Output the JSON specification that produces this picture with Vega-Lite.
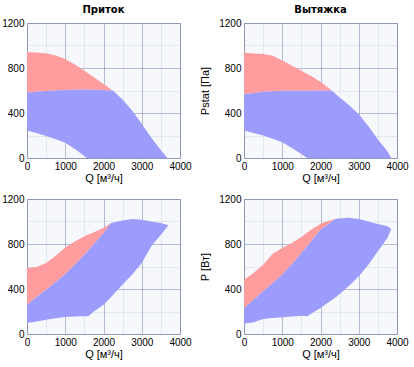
{
  "$schema": "https://vega.github.io/schema/vega-lite/v6.json",
  "padding": {"left": 1, "top": 4, "right": 5, "bottom": 5},
  "background": "white",
  "config": {
    "font": "Liberation Sans",
    "view": {"fill": "#f6f8fc", "stroke": "#aab3cc", "strokeWidth": 1},
    "title": {"font": "DejaVu Sans", "fontSize": 10, "fontWeight": "bold", "color": "#000", "anchor": "middle", "offset": 3},
    "axis": {"labelFont": "Liberation Sans", "labelFontSize": 10, "labelColor": "#000", "titleFont": "Liberation Sans", "titleFontSize": 11, "titleFontWeight": "normal", "titleColor": "#000", "ticks": false, "domain": false, "labelPadding": 3, "labelOverlap": false, "labelFlush": false, "zindex": 1}
  },
  "datasets": {
    "tl": [
      {"s": "r", "q": 0, "t": 940, "b": 582}, {"s": "r", "q": 250, "t": 938, "b": 588}, {"s": "r", "q": 500, "t": 932, "b": 595}, {"s": "r", "q": 750, "t": 912, "b": 600}, {"s": "r", "q": 1000, "t": 880, "b": 605}, {"s": "r", "q": 1250, "t": 832, "b": 607}, {"s": "r", "q": 1500, "t": 776, "b": 608}, {"s": "r", "q": 1750, "t": 718, "b": 607}, {"s": "r", "q": 2000, "t": 657, "b": 605}, {"s": "r", "q": 2250, "t": 598, "b": 598},
      {"s": "b", "q": 0, "t": 582, "b": 245}, {"s": "b", "q": 250, "t": 588, "b": 222}, {"s": "b", "q": 500, "t": 595, "b": 195}, {"s": "b", "q": 750, "t": 600, "b": 167}, {"s": "b", "q": 1000, "t": 605, "b": 135}, {"s": "b", "q": 1250, "t": 607, "b": 80}, {"s": "b", "q": 1500, "t": 608, "b": 18}, {"s": "b", "q": 1560, "t": 608, "b": 0}, {"s": "b", "q": 1750, "t": 607, "b": 0}, {"s": "b", "q": 2000, "t": 605, "b": 0}, {"s": "b", "q": 2250, "t": 598, "b": 0}, {"s": "b", "q": 2500, "t": 520, "b": 0}, {"s": "b", "q": 2750, "t": 420, "b": 0}, {"s": "b", "q": 3000, "t": 305, "b": 0}, {"s": "b", "q": 3250, "t": 180, "b": 0}, {"s": "b", "q": 3500, "t": 70, "b": 0}, {"s": "b", "q": 3670, "t": 0, "b": 0}
    ],
    "tr": [
      {"s": "r", "q": 0, "t": 935, "b": 567}, {"s": "r", "q": 250, "t": 930, "b": 578}, {"s": "r", "q": 500, "t": 925, "b": 588}, {"s": "r", "q": 750, "t": 910, "b": 593}, {"s": "r", "q": 1000, "t": 866, "b": 597}, {"s": "r", "q": 1250, "t": 822, "b": 597}, {"s": "r", "q": 1500, "t": 776, "b": 597}, {"s": "r", "q": 1750, "t": 728, "b": 598}, {"s": "r", "q": 2000, "t": 678, "b": 600}, {"s": "r", "q": 2300, "t": 597, "b": 597},
      {"s": "b", "q": 0, "t": 567, "b": 245}, {"s": "b", "q": 250, "t": 578, "b": 223}, {"s": "b", "q": 500, "t": 588, "b": 200}, {"s": "b", "q": 750, "t": 593, "b": 172}, {"s": "b", "q": 1000, "t": 597, "b": 140}, {"s": "b", "q": 1250, "t": 597, "b": 88}, {"s": "b", "q": 1500, "t": 597, "b": 35}, {"s": "b", "q": 1650, "t": 597, "b": 0}, {"s": "b", "q": 2000, "t": 600, "b": 0}, {"s": "b", "q": 2300, "t": 597, "b": 0}, {"s": "b", "q": 2500, "t": 537, "b": 0}, {"s": "b", "q": 2750, "t": 469, "b": 0}, {"s": "b", "q": 3000, "t": 388, "b": 0}, {"s": "b", "q": 3250, "t": 284, "b": 0}, {"s": "b", "q": 3500, "t": 164, "b": 0}, {"s": "b", "q": 3750, "t": 60, "b": 0}, {"s": "b", "q": 3850, "t": 0, "b": 0}
    ],
    "bl": [
      {"s": "r", "q": 0, "t": 587, "b": 261}, {"s": "r", "q": 250, "t": 596, "b": 328}, {"s": "r", "q": 500, "t": 631, "b": 394}, {"s": "r", "q": 750, "t": 696, "b": 463}, {"s": "r", "q": 1000, "t": 768, "b": 533}, {"s": "r", "q": 1250, "t": 822, "b": 618}, {"s": "r", "q": 1500, "t": 868, "b": 705}, {"s": "r", "q": 1750, "t": 905, "b": 800}, {"s": "r", "q": 2000, "t": 942, "b": 898}, {"s": "r", "q": 2200, "t": 987, "b": 987},
      {"s": "b", "q": 0, "t": 261, "b": 98}, {"s": "b", "q": 250, "t": 328, "b": 112}, {"s": "b", "q": 500, "t": 394, "b": 127}, {"s": "b", "q": 750, "t": 463, "b": 140}, {"s": "b", "q": 1000, "t": 533, "b": 151}, {"s": "b", "q": 1250, "t": 618, "b": 155}, {"s": "b", "q": 1500, "t": 705, "b": 157}, {"s": "b", "q": 1600, "t": 742, "b": 158}, {"s": "b", "q": 1750, "t": 800, "b": 200}, {"s": "b", "q": 2000, "t": 898, "b": 261}, {"s": "b", "q": 2200, "t": 987, "b": 330}, {"s": "b", "q": 2500, "t": 1010, "b": 439}, {"s": "b", "q": 2750, "t": 1022, "b": 530}, {"s": "b", "q": 3000, "t": 1016, "b": 631}, {"s": "b", "q": 3250, "t": 1001, "b": 779}, {"s": "b", "q": 3500, "t": 987, "b": 883}, {"s": "b", "q": 3700, "t": 966, "b": 966}
    ],
    "br": [
      {"s": "r", "q": 0, "t": 483, "b": 231}, {"s": "r", "q": 250, "t": 542, "b": 305}, {"s": "r", "q": 500, "t": 616, "b": 379}, {"s": "r", "q": 750, "t": 714, "b": 453}, {"s": "r", "q": 1000, "t": 764, "b": 527}, {"s": "r", "q": 1250, "t": 809, "b": 620}, {"s": "r", "q": 1500, "t": 862, "b": 720}, {"s": "r", "q": 1750, "t": 927, "b": 822}, {"s": "r", "q": 2000, "t": 980, "b": 927}, {"s": "r", "q": 2200, "t": 1005, "b": 976}, {"s": "r", "q": 2400, "t": 1025, "b": 1025},
      {"s": "b", "q": 0, "t": 231, "b": 92}, {"s": "b", "q": 250, "t": 305, "b": 104}, {"s": "b", "q": 500, "t": 379, "b": 133}, {"s": "b", "q": 750, "t": 453, "b": 142}, {"s": "b", "q": 1000, "t": 527, "b": 148}, {"s": "b", "q": 1250, "t": 620, "b": 155}, {"s": "b", "q": 1500, "t": 720, "b": 163}, {"s": "b", "q": 1650, "t": 780, "b": 157}, {"s": "b", "q": 2000, "t": 927, "b": 231}, {"s": "b", "q": 2200, "t": 976, "b": 280}, {"s": "b", "q": 2400, "t": 1025, "b": 326}, {"s": "b", "q": 2750, "t": 1034, "b": 430}, {"s": "b", "q": 3000, "t": 1022, "b": 513}, {"s": "b", "q": 3250, "t": 1001, "b": 616}, {"s": "b", "q": 3500, "t": 978, "b": 735}, {"s": "b", "q": 3750, "t": 957, "b": 853}, {"s": "b", "q": 3850, "t": 933, "b": 933}
    ]
  },
  "bounds": "flush",
  "columns": 2,
  "spacing": {"row": 41, "column": 64},
  "concat": [
    {
      "width": 153, "height": 135,
      "title": "Приток",
      "data": {"name": "tl"},
      "encoding": {
        "x": {"field": "q", "type": "quantitative", "scale": {"domain": [0, 4000], "nice": false}, "axis": {"title": "Q [м³/ч]", "titlePadding": 1, "values": [0, 500, 1000, 1500, 2000, 2500, 3000, 3500, 4000], "format": "d", "labelExpr": "datum.value % 1000 === 0 ? datum.label : ''", "gridColor": "#6f7fa8", "gridOpacity": {"condition": {"test": "datum.value % 1000 === 0", "value": 0.5}, "value": 0.14}}},
        "y": {"field": "t", "type": "quantitative", "scale": {"domain": [0, 1200], "nice": false}, "axis": {"title": null, "values": [0, 200, 400, 600, 800, 1000, 1200], "format": "d", "labelExpr": "datum.value % 400 === 0 ? datum.label : ''", "gridColor": "#6f7fa8", "gridOpacity": {"condition": {"test": "datum.value % 400 === 0", "value": 0.5}, "value": 0.14}}},
        "y2": {"field": "b"}
      },
      "layer": [
        {"transform": [{"filter": "datum.s === 'r'"}], "mark": {"type": "area", "color": "#ff9c9e", "opacity": 1}},
        {"transform": [{"filter": "datum.s === 'b'"}], "mark": {"type": "area", "color": "#9c9cfd", "opacity": 1}}
      ]
    },
    {
      "width": 153, "height": 135,
      "title": "Вытяжка",
      "data": {"name": "tr"},
      "encoding": {
        "x": {"field": "q", "type": "quantitative", "scale": {"domain": [0, 4000], "nice": false}, "axis": {"title": "Q [м³/ч]", "titlePadding": 1, "values": [0, 500, 1000, 1500, 2000, 2500, 3000, 3500, 4000], "format": "d", "labelExpr": "datum.value % 1000 === 0 ? datum.label : ''", "gridColor": "#6f7fa8", "gridOpacity": {"condition": {"test": "datum.value % 1000 === 0", "value": 0.5}, "value": 0.14}}},
        "y": {"field": "t", "type": "quantitative", "scale": {"domain": [0, 1200], "nice": false}, "axis": {"title": "Pstat [Па]", "titlePadding": 8, "values": [0, 200, 400, 600, 800, 1000, 1200], "format": "d", "labelExpr": "datum.value % 400 === 0 ? datum.label : ''", "gridColor": "#6f7fa8", "gridOpacity": {"condition": {"test": "datum.value % 400 === 0", "value": 0.5}, "value": 0.14}}},
        "y2": {"field": "b"}
      },
      "layer": [
        {"transform": [{"filter": "datum.s === 'r'"}], "mark": {"type": "area", "color": "#ff9c9e", "opacity": 1}},
        {"transform": [{"filter": "datum.s === 'b'"}], "mark": {"type": "area", "color": "#9c9cfd", "opacity": 1}}
      ]
    },
    {
      "width": 153, "height": 135,
      "data": {"name": "bl"},
      "encoding": {
        "x": {"field": "q", "type": "quantitative", "scale": {"domain": [0, 4000], "nice": false}, "axis": {"title": "Q [м³/ч]", "titlePadding": 1, "values": [0, 500, 1000, 1500, 2000, 2500, 3000, 3500, 4000], "format": "d", "labelExpr": "datum.value % 1000 === 0 ? datum.label : ''", "gridColor": "#6f7fa8", "gridOpacity": {"condition": {"test": "datum.value % 1000 === 0", "value": 0.5}, "value": 0.14}}},
        "y": {"field": "t", "type": "quantitative", "scale": {"domain": [0, 1200], "nice": false}, "axis": {"title": null, "values": [0, 200, 400, 600, 800, 1000, 1200], "format": "d", "labelExpr": "datum.value % 400 === 0 ? datum.label : ''", "gridColor": "#6f7fa8", "gridOpacity": {"condition": {"test": "datum.value % 400 === 0", "value": 0.5}, "value": 0.14}}},
        "y2": {"field": "b"}
      },
      "layer": [
        {"transform": [{"filter": "datum.s === 'r'"}], "mark": {"type": "area", "color": "#ff9c9e", "opacity": 1}},
        {"transform": [{"filter": "datum.s === 'b'"}], "mark": {"type": "area", "color": "#9c9cfd", "opacity": 1}}
      ]
    },
    {
      "width": 153, "height": 135,
      "data": {"name": "br"},
      "encoding": {
        "x": {"field": "q", "type": "quantitative", "scale": {"domain": [0, 4000], "nice": false}, "axis": {"title": "Q [м³/ч]", "titlePadding": 1, "values": [0, 500, 1000, 1500, 2000, 2500, 3000, 3500, 4000], "format": "d", "labelExpr": "datum.value % 1000 === 0 ? datum.label : ''", "gridColor": "#6f7fa8", "gridOpacity": {"condition": {"test": "datum.value % 1000 === 0", "value": 0.5}, "value": 0.14}}},
        "y": {"field": "t", "type": "quantitative", "scale": {"domain": [0, 1200], "nice": false}, "axis": {"title": "P [Вт]", "titlePadding": 8, "values": [0, 200, 400, 600, 800, 1000, 1200], "format": "d", "labelExpr": "datum.value % 400 === 0 ? datum.label : ''", "gridColor": "#6f7fa8", "gridOpacity": {"condition": {"test": "datum.value % 400 === 0", "value": 0.5}, "value": 0.14}}},
        "y2": {"field": "b"}
      },
      "layer": [
        {"transform": [{"filter": "datum.s === 'r'"}], "mark": {"type": "area", "color": "#ff9c9e", "opacity": 1}},
        {"transform": [{"filter": "datum.s === 'b'"}], "mark": {"type": "area", "color": "#9c9cfd", "opacity": 1}}
      ]
    }
  ]
}
